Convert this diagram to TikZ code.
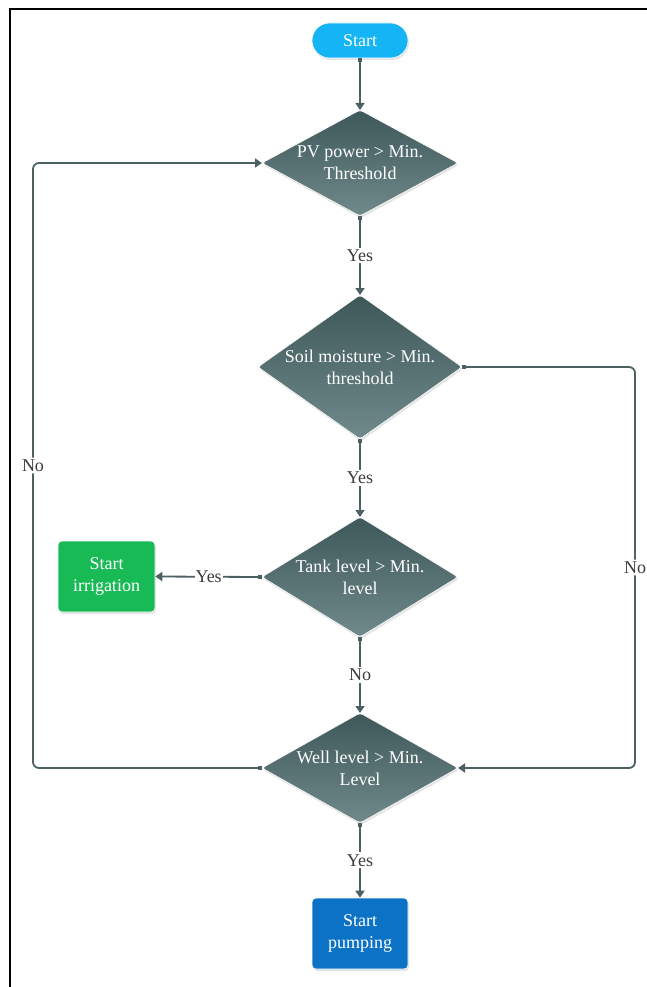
\documentclass[tikz,border=0pt]{standalone}
\usepackage{fontspec}
\setmainfont{Liberation Serif}
\usetikzlibrary{shapes.geometric,shapes.misc,arrows.meta,shadows}
\definecolor{conncol}{RGB}{77,97,98}
\definecolor{dtop}{RGB}{62,88,90}
\definecolor{dbot}{RGB}{112,137,138}
\definecolor{startcol}{RGB}{20,180,245}
\definecolor{irrcol}{RGB}{24,186,86}
\definecolor{pumpcol}{RGB}{12,114,198}
\definecolor{labcol}{RGB}{60,60,60}
\begin{document}
\begin{tikzpicture}[x=1pt,y=-1pt,
  font=\fontsize{18}{22}\selectfont,
  conn/.style={draw=conncol, line width=1.8pt,
    arrows={Square[length=4pt,width=4pt]-Triangle[length=7pt,width=9pt]}},
  lab/.style={fill=white, text=labcol, inner sep=2pt},
  shad/.style={drop shadow={shadow xshift=1pt,shadow yshift=-2pt,opacity=0.22}},
  decision/.style={diamond, inner sep=0pt, outer sep=0pt, top color=dtop, bottom color=dbot,
    draw=white, line width=0.6pt, rounded corners=3pt, shad},
  dtext/.style={text=white, align=center},
  startbox/.style={rounded rectangle, minimum width=96pt, minimum height=35pt, inner sep=0pt,
    fill=startcol, draw=white, line width=0.6pt, text=white, shad},
  procbox/.style={rectangle, rounded corners=4pt, inner sep=0pt, align=center, text=white,
    draw=white, line width=0.6pt, shad}]
\useasboundingbox (0,0) rectangle (647,987);
\draw[line width=1.5pt] (10,987) -- (10,9) -- (647,9);

\node[startbox] (start) at (360,40.5) {Start};
\node[decision, minimum width=196pt, minimum height=106pt,
  label={[dtext]center:PV power > Min.\\Threshold}] (d1) at (360,163) {};
\node[decision, minimum width=204pt, minimum height=144pt,
  label={[dtext]center:Soil moisture > Min.\\threshold}] (d2) at (360,367) {};
\node[decision, minimum width=196pt, minimum height=120pt,
  label={[dtext]center:Tank level > Min.\\level}] (d3) at (360,577) {};
\node[decision, minimum width=196pt, minimum height=110pt,
  label={[dtext]center:Well level > Min.\\Level}] (d4) at (360,768) {};
\node[procbox, fill=irrcol, minimum width=97pt, minimum height=71pt] (irr) at (106.5,576.5) {Start\\irrigation};
\node[procbox, fill=pumpcol, minimum width=96pt, minimum height=71pt] (pump) at (360,933.5) {Start\\pumping};

\coordinate (l1) at (33,768);
\coordinate (l2) at (33,163);
\coordinate (r1) at (635,367);
\coordinate (r2) at (635,768);

\draw[conn] (start.south) -- (d1.north);
\draw[conn] (d1.south) -- node[lab]{Yes} (d2.north);
\draw[conn] (d2.south) -- node[lab]{Yes} (d3.north);
\draw[conn] (d3.south) -- node[lab]{No} (d4.north);
\draw[conn] (d4.south) -- node[lab]{Yes} (pump.north);
\draw[conn] (d3.west) -- node[lab,inner sep=1pt]{Yes} (irr.east);
\draw[conn, rounded corners=6pt] (d4.west) -- (l1) -- node[lab]{No} (l2) -- (d1.west);
\draw[conn, rounded corners=6pt] (d2.east) -- (r1) -- node[lab]{No} (r2) -- (d4.east);
\end{tikzpicture}
\end{document}
